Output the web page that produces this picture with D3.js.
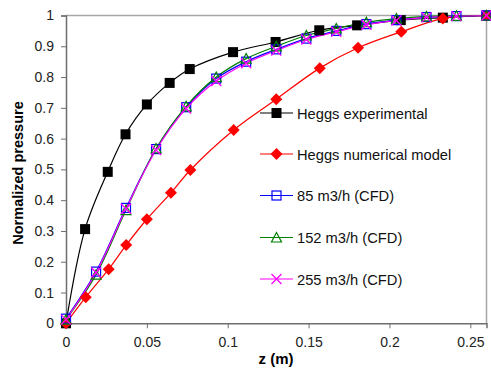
<!DOCTYPE html>
<html><head><meta charset="utf-8">
<script src="https://cdn.jsdelivr.net/npm/d3@7"></script>
<style>body{margin:0;background:#fff;} svg{display:block;} text{font-family:Arial,"Liberation Sans",sans-serif;}</style>
</head><body>
<div id="chart"></div>
<script>
const expZ = [0, 0.0118, 0.0258, 0.0368, 0.05, 0.0641, 0.0765, 0.1033, 0.1296, 0.1566, 0.180, 0.207, 0.233, 0.26];
const expP = [0.0, 0.306, 0.492, 0.614, 0.711, 0.781, 0.826, 0.881, 0.914, 0.952, 0.968, 0.985, 0.993, 1.0];
const numZ = [0, 0.0122, 0.0264, 0.0372, 0.05, 0.0649, 0.0769, 0.1037, 0.130, 0.1569, 0.1806, 0.2073, 0.233, 0.26];
const numP = [0.0, 0.085, 0.176, 0.254, 0.338, 0.424, 0.498, 0.628, 0.728, 0.829, 0.895, 0.947, 0.990, 1.0];
const cfdZ = [0, 0.0186, 0.0371, 0.0557, 0.0743, 0.0929, 0.1114, 0.13, 0.1486, 0.1671, 0.1857, 0.2043, 0.2229, 0.2414, 0.26];
const cfd85 = [0.015, 0.168, 0.375, 0.566, 0.702, 0.795, 0.850, 0.890, 0.925, 0.950, 0.972, 0.985, 0.995, 0.998, 1.0];
const cfd152 = [0.012, 0.158, 0.368, 0.568, 0.705, 0.800, 0.860, 0.900, 0.935, 0.958, 0.978, 0.990, 0.997, 0.999, 1.0];
const cfd255 = [0.012, 0.165, 0.372, 0.563, 0.698, 0.787, 0.845, 0.886, 0.922, 0.947, 0.970, 0.984, 0.994, 0.998, 1.0];
const xTicks = [0, 0.05, 0.1, 0.15, 0.2, 0.25];
const yTicks = [0, 0.1, 0.2, 0.3, 0.4, 0.5, 0.6, 0.7, 0.8, 0.9, 1];
const seriesNames = ["Heggs experimental", "Heggs numerical model", "85 m3/h (CFD)", "152 m3/h (CFD)", "255 m3/h (CFD)"];

const W = 491, H = 374;
const m = {l: 66, t: 15.5, r: 486.5, b: 323.3};
const svg = d3.select("#chart").append("svg").attr("width", W).attr("height", H);
const x = d3.scaleLinear().domain([0, 0.26]).range([m.l, m.r]);
const y = d3.scaleLinear().domain([0, 1]).range([m.b, m.t]);

// frame top/right
svg.append("path").attr("d", `M${m.l},${m.t}H${m.r}V${m.b}`).attr("fill", "none").attr("stroke", "#a6a6a6").attr("stroke-width", 1.5);

const xAxis = svg.append("g").attr("transform", `translate(0,${m.b})`)
  .call(d3.axisBottom(x).tickValues(xTicks).tickSize(5).tickPadding(9).tickFormat(d => d3.format("")(d)));
const yAxis = svg.append("g").attr("transform", `translate(${m.l},0)`)
  .call(d3.axisLeft(y).tickValues(yTicks).tickSize(5).tickPadding(7).tickFormat(d => d3.format("")(d)));
[xAxis, yAxis].forEach(a => {
  a.select(".domain").attr("stroke", "#6e6e6e").attr("stroke-width", 1.5);
  a.selectAll(".tick line").attr("stroke", "#6e6e6e").attr("stroke-width", 1);
  a.selectAll(".tick text").attr("font-size", 14).attr("fill", "#222").attr("font-family", "Arial, 'Liberation Sans', sans-serif");
});

svg.append("text").attr("x", 276).attr("y", 364).attr("text-anchor", "middle")
  .attr("font-size", 15).attr("font-weight", "bold").text("z (m)");
svg.append("text").attr("transform", `translate(22.5,173) rotate(-90)`).attr("text-anchor", "middle")
  .attr("font-size", 14.5).attr("font-weight", "bold").text("Normalized pressure");

const series = [
  {name: seriesNames[0], zs: expZ, ps: expP, color: "#000000", marker: "sqf"},
  {name: seriesNames[1], zs: numZ, ps: numP, color: "#ff0000", marker: "dia"},
  {name: seriesNames[2], zs: cfdZ, ps: cfd85, color: "#0000ff", marker: "sqo"},
  {name: seriesNames[3], zs: cfdZ, ps: cfd152, color: "#008000", marker: "tri"},
  {name: seriesNames[4], zs: cfdZ, ps: cfd255, color: "#ff00ff", marker: "x"}
];

const line = d3.line().x(d => x(d[0])).y(d => y(d[1])).curve(d3.curveCatmullRom.alpha(0.5));

function drawMarker(g, type, cx, cy, color) {
  if (type === "sqf") {
    g.append("rect").attr("x", cx - 5).attr("y", cy - 5).attr("width", 10).attr("height", 10).attr("fill", color);
  } else if (type === "dia") {
    g.append("path").attr("d", `M${cx},${cy-6}L${cx+6},${cy}L${cx},${cy+6}L${cx-6},${cy}Z`).attr("fill", color);
  } else if (type === "sqo") {
    g.append("rect").attr("x", cx - 4.5).attr("y", cy - 4.5).attr("width", 9).attr("height", 9).attr("fill", "none").attr("stroke", color).attr("stroke-width", 1.2);
  } else if (type === "tri") {
    g.append("path").attr("d", `M${cx},${cy-5}L${cx+5},${cy+4.5}L${cx-5},${cy+4.5}Z`).attr("fill", "none").attr("stroke", color).attr("stroke-width", 1.2);
  } else if (type === "x") {
    g.append("path").attr("d", `M${cx-5},${cy-5}L${cx+5},${cy+5}M${cx-5},${cy+5}L${cx+5},${cy-5}`).attr("stroke", color).attr("stroke-width", 1.3);
  }
}

const plot = svg.append("g");
series.forEach(s => {
  const pts = s.zs.map((z, i) => [z, s.ps[i]]);
  plot.append("path").datum(pts).attr("d", line).attr("fill", "none").attr("stroke", s.color).attr("stroke-width", 1.2);
});
series.forEach(s => {
  const g = plot.append("g");
  s.zs.forEach((z, i) => drawMarker(g, s.marker, x(z), y(s.ps[i]), s.color));
});

// legend
const legY = [113, 154, 195.5, 237.5, 279];
const leg = svg.append("g");
series.forEach((s, i) => {
  const ly = legY[i];
  leg.append("line").attr("x1", 260).attr("x2", 293).attr("y1", ly).attr("y2", ly).attr("stroke", s.color).attr("stroke-width", 1.2);
  drawMarker(leg, s.marker, 276.5, ly, s.color);
  leg.append("text").attr("x", 297).attr("y", ly + 5.5).attr("font-size", 14.7).attr("fill", "#111").text(s.name);
});
</script>
</body></html>
